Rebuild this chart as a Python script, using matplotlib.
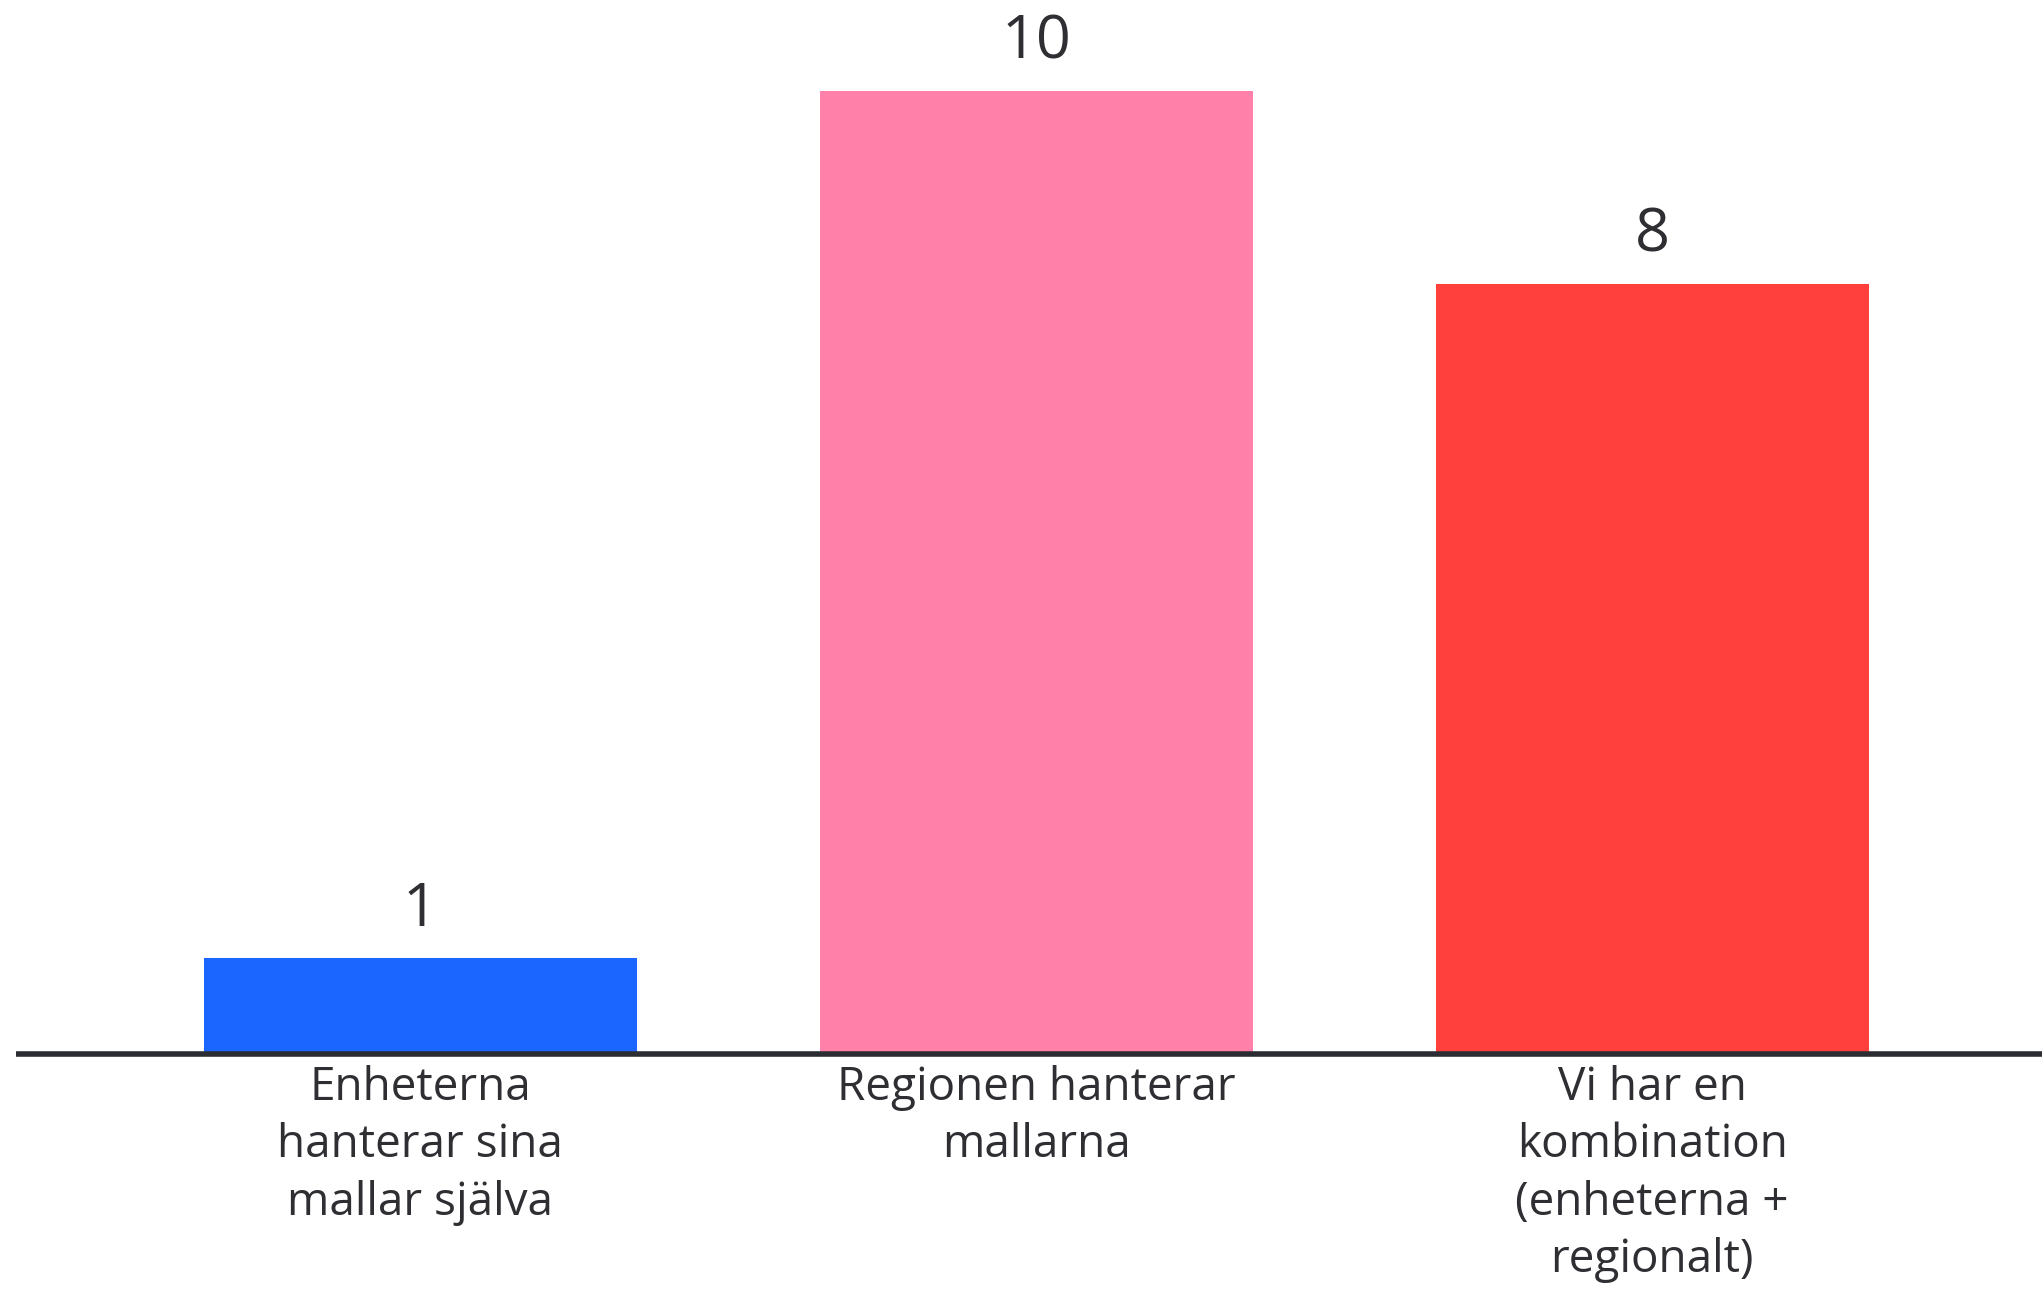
import matplotlib.pyplot as plt

categories = ['Enheterna\nhanterar sina\nmallar själva',
              'Regionen hanterar\nmallarna',
              'Vi har en\nkombination\n(enheterna +\nregionalt)']
values = [1, 10, 8]
colors = ['#1a66ff', '#ff80a8', '#ff403c']

plt.rcParams['font.family'] = ['Open Sans', 'DejaVu Sans']
text_color = '#2e2e33'

fig = plt.figure(figsize=(20.42, 12.94), dpi=100)
ax = fig.add_axes([16/2042, 1 - 1054/1294, 1 - 16/2042, (1054 - 91)/1294])

x = list(range(len(values)))
bars = ax.bar(x, values, width=0.703, color=colors)

for b, v in zip(bars, values):
  ax.annotate(str(v), (b.get_x() + b.get_width()/2, v), xytext=(0, 13),
              textcoords='offset points', ha='center', va='bottom',
              fontsize=44, color=text_color, annotation_clip=False)

ax.set_xlim(-0.656, 2.633)
ax.set_ylim(0, 10)
ax.set_xticks(x)
ax.set_xticklabels(categories, fontsize=33, color=text_color, linespacing=1.32)
ax.tick_params(axis='x', length=0, pad=8)
ax.set_yticks([])
for s in ['top', 'right', 'left']:
  ax.spines[s].set_visible(False)
ax.spines['bottom'].set_linewidth(4)
ax.spines['bottom'].set_color('#2b2d33')
ax.spines['bottom'].set_capstyle('butt')

fig.savefig('out.png', dpi=100)
